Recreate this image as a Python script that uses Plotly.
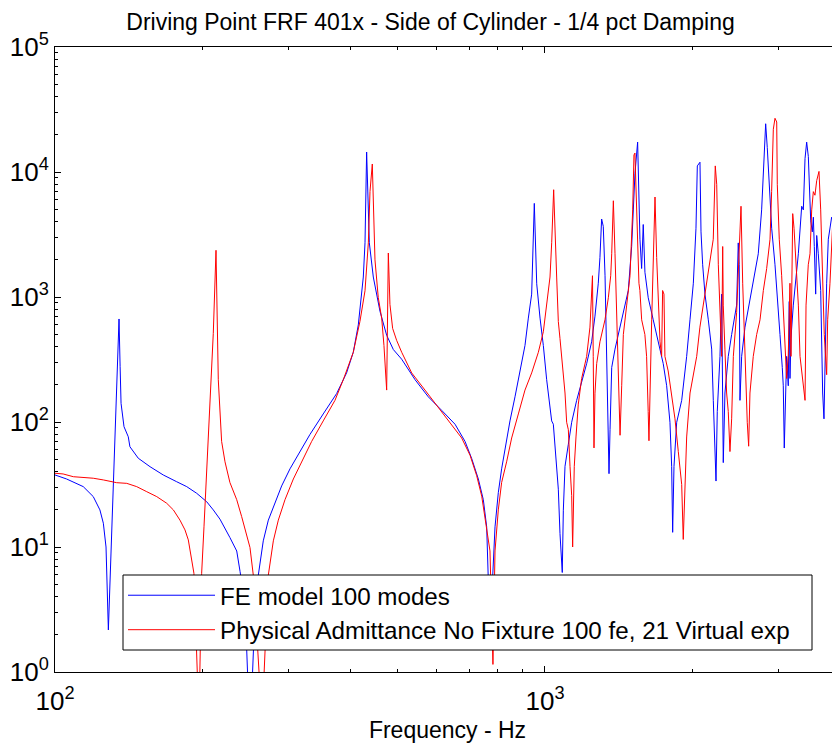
import math
import plotly.graph_objects as go

# ---- data (frequency in Hz, FRF magnitude) ----
fe_model = [
    (100, 37.7), (105.6, 35.0), (114.2, 30.4), (119.7, 25.3), (123.5, 19.8), (125.5, 15.5),
    (127.1, 10.0), (127.9, 4.8), (128.5, 2.17), (130.1, 8.95), (131.5, 30.4), (133.0, 110),
    (134.3, 377), (135.1, 667), (135.8, 277), (136.4, 141), (138.3, 91.7), (141.1, 76.2),
    (142.2, 63.4), (147.9, 51.3), (156.3, 43.9), (166.3, 37.7), (177.1, 33.3), (185.7, 30.4),
    (194.6, 26.9), (204.0, 23.0), (210.4, 19.8), (217.1, 16.7), (227.5, 11.9), (234.9, 9.29),
    (238.6, 6.37), (244.2, 3.5), (250.0, 0.3), (255.9, 3.0), (260.0, 5.97), (266.1, 11.2),
    (272.5, 16.4), (279.0, 21.1), (290.1, 30.8), (301.7, 42.2), (316.2, 58.0), (331.3, 79.4),
    (352.7, 116), (375.7, 169), (393.6, 247), (406.2, 361), (415.9, 598), (425.8, 1445),
    (429.2, 2716), (432.5, 14450), (438.0, 2716), (446.3, 1445), (460.5, 769), (475.2, 494),
    (490.3, 380), (509.9, 318), (543.0, 218), (577.9, 159), (615.3, 124), (655.2, 96),
    (686.7, 70), (708.6, 51), (731.1, 35), (748.4, 23.9), (760.3, 14.5), (766.2, 5.97),
    (772.2, 2.0), (790.7, 14.5), (803.0, 27.2), (815.7, 42.2), (828.6, 61.8), (848.3, 102),
    (868.5, 159), (889.1, 247), (910.2, 409), (924.7, 678), (939.3, 1054), (951.0, 5610),
    (961.8, 1276), (977.0, 678), (992.2, 409), (1007.9, 218), (1031.8, 102), (1040.0, 96),
    (1056.0, 48), (1064.6, 29), (1073.0, 12.8), (1084.6, 6.25), (1090.0, 19.7), (1098.6, 44.2),
    (1115.9, 66.3), (1133.6, 99.5), (1160.5, 149), (1188.0, 208), (1216.3, 293), (1245.0, 438),
    (1264.7, 703), (1284.6, 1289), (1294.6, 2070), (1305.0, 4207), (1315.0, 3673), (1326.0, 1479),
    (1336.4, 335), (1346.7, 86.8), (1351.0, 38.6), (1357.5, 86.8), (1368.2, 273), (1389.6, 383),
    (1411.4, 501), (1444.9, 751), (1479.1, 1127), (1502.6, 2535), (1526.3, 9772), (1545.5, 17340),
    (1555.1, 6520), (1562.4, 2899), (1574.8, 1690), (1586.7, 3802), (1599.4, 1578), (1624.4, 986),
    (1663.0, 657), (1702.6, 438), (1743.0, 293), (1771.3, 195), (1799.0, 99.5), (1813.5, 44.2),
    (1822.0, 13.1), (1833.4, 44.2), (1856.8, 99.5), (1901.0, 149), (1946.0, 335), (1976.6, 657),
    (2007.8, 1289), (2033.0, 3548), (2045.8, 11190), (2071.5, 11970), (2081.6, 3319), (2097.9, 1811),
    (2120.7, 1054), (2154.2, 657), (2188.7, 383), (2205.4, 149), (2222.7, 44.2), (2233.5, 33.7),
    (2247.0, 121.6), (2275.6, 335), (2293.7, 1054), (2311.2, 47.3), (2329.4, 170.6), (2365.9, 335),
    (2404.0, 501), (2461.0, 861), (2479.7, 2710), (2491.0, 1811), (2500.0, 149), (2519.7, 335),
    (2559.5, 574), (2599.4, 805), (2661.0, 1289), (2724.3, 2218), (2767.8, 4977), (2798.0, 14650),
    (2820.6, 24320), (2842.0, 15670), (2869.0, 6966), (2901.5, 3548), (2947.0, 1811), (2993.0, 861),
    (3017.0, 501), (3049.7, 273), (3064.0, 195), (3078.5, 61.9), (3112.7, 335), (3137.0, 195),
    (3151.5, 920), (3162.0, 223), (3177.0, 469), (3212.0, 861), (3252.0, 1479), (3289.0, 2218),
    (3341.0, 5321), (3366.8, 4977), (3393.7, 12790), (3420.0, 17340), (3447.0, 13280), (3463.0, 9140),
    (3485.6, 4064), (3512.0, 3319), (3529.0, 4350), (3545.0, 2535), (3568.0, 1054), (3585.0, 3105),
    (3612.0, 2218), (3653.0, 1127), (3687.0, 170.6), (3710.0, 106), (3727.0, 335), (3757.0, 1289),
    (3786.0, 2899), (3846.0, 4350), (3876.0, 4064), (3888.0, 6966), (3912.0, 861), (3925.0, 273),
    (3949.0, 383), (3968.0, 861), (3993.0, 657),
]

physical_admittance = [
    (100, 38.9), (103.9, 38.4), (109.0, 36.5), (114.2, 36.1), (119.7, 35.5), (125.5, 34.4),
    (133.6, 32.7), (140.1, 32.3), (146.8, 30.4), (153.9, 27.7), (161.3, 25.3), (169.0, 22.4),
    (174.4, 19.8), (179.9, 16.4), (184.2, 13.7), (187.1, 11.4), (190.1, 7.87), (192.1, 6.16),
    (196.7, 0.4), (199.2, 6.16), (201.4, 14.5), (204.0, 43.9), (207.2, 150), (210.4, 512),
    (213.1, 2364), (215.4, 218), (218.8, 70), (222.3, 48), (227.5, 32.8), (234.9, 23.9),
    (240.4, 17.5), (246.1, 12.8), (250.0, 9.9), (253.9, 5.97), (264.5, 0.4), (272.5, 5.97),
    (279.0, 11.2), (285.6, 16.4), (294.7, 23.9), (306.5, 35), (318.7, 48), (334.1, 70),
    (352.7, 102), (372.7, 149), (387.6, 218), (406.2, 361), (419.1, 637), (429.2, 1122),
    (436.0, 2716), (439.4, 6998), (444.2, 11590), (446.3, 5105), (449.8, 1982), (456.8, 991),
    (464.2, 678), (469.2, 409), (475.2, 180), (478.9, 2249), (482.6, 873), (488.7, 561),
    (498.0, 450), (510.0, 361), (534.5, 247), (569.0, 180), (605.8, 131.6), (645.0, 96),
    (676.0, 74.5), (703.0, 54.3), (725.4, 37.2), (742.8, 25.5), (754.5, 17.5), (772.2, 9.3),
    (783.0, 1.15), (790.7, 9.3), (803.0, 19.8), (815.7, 32.8), (835.0, 48), (855.0, 74.5),
    (882.3, 116), (910.2, 180), (939.3, 247), (969.2, 361), (992.2, 527), (1008.0, 873),
    (1023.8, 1445), (1032.0, 2716), (1041.6, 7215), (1056.4, 1445), (1064.6, 637), (1073.0, 465),
    (1081.4, 335), (1090.0, 256), (1098.6, 170.6), (1107.2, 99.5), (1115.9, 86.8), (1124.7, 44.2),
    (1133.6, 25.8), (1138.8, 10.0), (1147.5, 44.2), (1156.8, 75.9), (1169.4, 139), (1188.0, 223),
    (1216.3, 335), (1235.3, 574), (1245.0, 1380), (1250.0, 1480), (1254.5, 335), (1258.9, 62),
    (1264.7, 170), (1274.9, 293), (1294.6, 438), (1325.6, 657), (1346.7, 986), (1361.8, 1479),
    (1368.2, 2218), (1378.8, 5888), (1389.6, 2218), (1400.5, 751), (1411.4, 170.6), (1423.0, 78.3),
    (1434.0, 195), (1445.0, 501), (1468.0, 861), (1491.0, 1479), (1510.0, 4977), (1519.0, 13680),
    (1526.0, 14170), (1538.0, 4977), (1546.0, 2218), (1555.0, 1289), (1562.0, 1127), (1575.0, 657),
    (1599.0, 501), (1612.0, 335), (1624.0, 121.6), (1630.0, 70.8), (1651.0, 657), (1663.0, 2535),
    (1677.0, 6310), (1690.0, 2070), (1703.0, 861), (1717.0, 438), (1730.0, 335), (1738.0, 1127),
    (1749.0, 1054), (1757.0, 335), (1784.0, 256), (1813.0, 170.6), (1842.0, 106), (1871.0, 57.9),
    (1901.0, 31.6), (1915.0, 11.5), (1931.0, 31.6), (1946.0, 75.9), (1977.0, 170.6), (2008.0, 239),
    (2040.0, 335), (2071.0, 574), (2104.0, 861), (2138.0, 1289), (2172.0, 2070), (2205.0, 2899),
    (2226.0, 11190), (2241.0, 7980), (2258.0, 1811), (2276.0, 861), (2294.0, 335), (2305.0, 2535),
    (2311.0, 861), (2329.0, 383), (2348.0, 170.6), (2366.0, 121.6), (2385.0, 58), (2404.0, 106),
    (2423.0, 335), (2461.0, 751), (2500.0, 2899), (2512.0, 5321), (2532.0, 1289), (2559.0, 335),
    (2587.0, 99.5), (2604.0, 64), (2620.0, 170.6), (2661.0, 335), (2704.0, 501), (2747.0, 657),
    (2790.0, 1127), (2834.0, 1690), (2879.0, 2899), (2901.0, 6966), (2924.0, 21980), (2947.0, 26900),
    (2971.0, 25120), (2979.0, 7980), (3007.0, 2899), (3041.0, 1479), (3074.0, 657), (3113.0, 223),
    (3136.0, 335), (3162.0, 1289), (3177.0, 335), (3203.0, 4645), (3223.0, 3548), (3252.0, 1811),
    (3289.0, 861), (3315.0, 335), (3357.0, 223), (3394.0, 149), (3410.0, 861), (3446.0, 1811),
    (3474.0, 2218), (3502.0, 4977), (3529.0, 6966), (3556.0, 6520), (3585.0, 8531), (3624.0, 10110),
    (3653.0, 4977), (3687.0, 1289), (3715.0, 501), (3757.0, 239), (3775.0, 657), (3816.0, 1289),
    (3876.0, 4977), (3907.0, 6966), (3938.0, 3548), (3968.0, 1811), (3993.0, 2535),
]

series_names = ["FE model 100 modes", "Physical Admittance No Fixture 100 fe, 21 Virtual exp"]
series_colors = ["#0000ff", "#ff0000"]

x_major = [100, 1000]
x_major_text = ["10<sup>2</sup>", "10<sup>3</sup>"]
x_minor = [200, 300, 400, 500, 600, 700, 800, 900, 2000, 3000, 4000]
y_major = [1, 10, 100, 1000, 10000, 100000]
y_major_text = ["10<sup>0</sup>", "10<sup>1</sup>", "10<sup>2</sup>", "10<sup>3</sup>", "10<sup>4</sup>", "10<sup>5</sup>"]
y_minor = [m * d for d in [1, 10, 100, 1000, 10000] for m in range(2, 10)]

title_text = "Driving Point FRF 401x - Side of Cylinder - 1/4 pct Damping"
x_title = "Frequency - Hz"

FONT = "Liberation Sans, Arial, Helvetica, sans-serif"

# The page body has an 8 px margin, so the figure is drawn 8 px right/down.
OFF = 8
W, H = 840 - OFF, 747 - OFF
# plot-area geometry in figure pixels
L, R, T, B = 55 - OFF, 840 - OFF, 47 - OFF, 672 - OFF

def px_x(p):
    """screen pixel x -> paper fraction"""
    return (p - OFF - L) / (R - L)

def px_y(p):
    """screen pixel y -> paper fraction"""
    return (B - (p - OFF)) / (B - T)

fig = go.Figure()
for pts, name, color in zip([fe_model, physical_admittance], series_names, series_colors):
    fig.add_trace(go.Scatter(
        x=[p[0] for p in pts], y=[p[1] for p in pts], mode="lines", name=name,
        line=dict(color=color, width=1),
    ))

axis_common = dict(
    type="log", showgrid=False, zeroline=False, showline=True, linecolor="black", linewidth=1,
    mirror="ticks", ticks="inside", ticklen=6, tickwidth=1, tickcolor="black",
    tickfont=dict(family=FONT, size=26, color="black"), automargin=False,
)

fig.update_layout(
    width=W, height=H, autosize=False,
    margin=dict(l=L, r=W - R, t=T, b=H - B),
    paper_bgcolor="white", plot_bgcolor="white",
    font=dict(family=FONT, size=23, color="black"),
    title=dict(text=title_text, x=(430.5 - OFF) / W, xref="container", xanchor="center",
               y=1 - (22 - OFF) / H, yref="container", yanchor="middle",
               font=dict(family=FONT, size=23, color="black")),
    xaxis=dict(axis_common, range=[2, math.log10(4000)], tickmode="array",
               tickvals=x_major, ticktext=x_major_text, ticklabelstandoff=6,
               minor=dict(tickmode="array", tickvals=x_minor, ticks="inside", ticklen=3,
                          tickcolor="black", showgrid=False),
               title=dict(text=x_title, font=dict(family=FONT, size=23, color="black"), standoff=6)),
    yaxis=dict(axis_common, range=[0, 5], tickmode="array",
               tickvals=y_major, ticktext=y_major_text,
               minor=dict(tickmode="array", tickvals=y_minor, ticks="inside", ticklen=3,
                          tickcolor="black", showgrid=False)),
    showlegend=True,
    legend=dict(x=px_x(123), y=px_y(573), xanchor="left", yanchor="top",
                bgcolor="rgba(0,0,0,0)", borderwidth=0,
                font=dict(family=FONT, size=24.2, color="black"),
                itemwidth=87, tracegroupgap=0),
    shapes=[dict(type="rect", xref="paper", yref="paper", layer="above",
                 x0=px_x(123), x1=px_x(812), y0=px_y(650), y1=px_y(575),
                 fillcolor="white", line=dict(color="black", width=1))],
)

fig.write_html("out.html")
